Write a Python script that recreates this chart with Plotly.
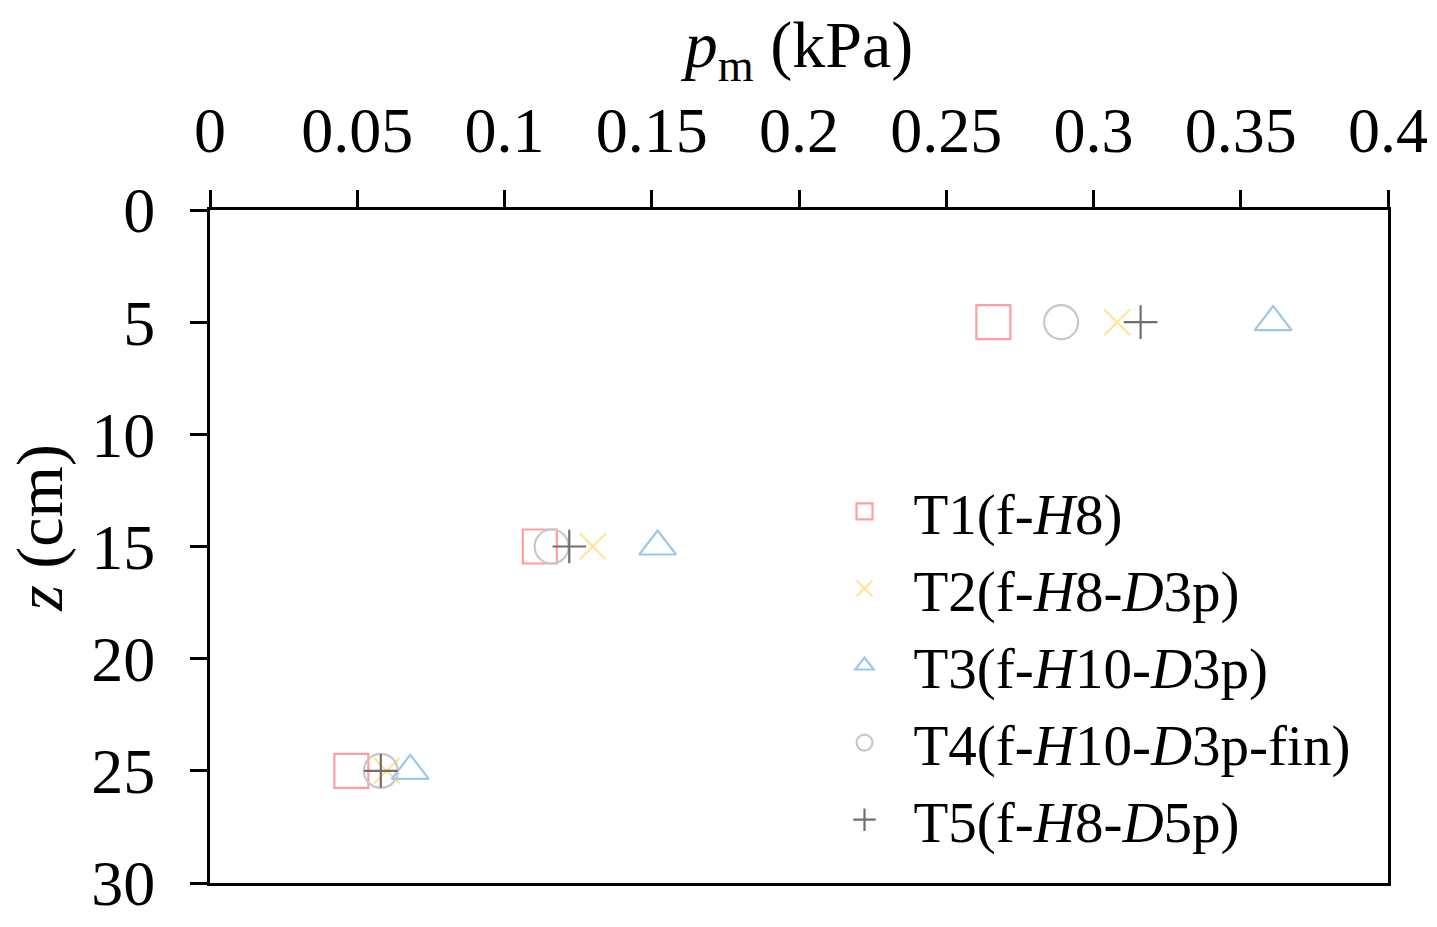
import plotly.graph_objects as go

# depth of each measurement (cm)
depth = [5, 15, 25]

# mean pressure p_m (kPa) for each test case
t1_pm = [0.266, 0.112, 0.048]
t2_pm = [0.308, 0.130, 0.060]
t3_pm = [0.361, 0.152, 0.068]
t4_pm = [0.289, 0.116, 0.058]
t5_pm = [0.316, 0.122, 0.058]

names = [
    "T1(f-<i>H</i>8)",
    "T2(f-<i>H</i>8-<i>D</i>3p)",
    "T3(f-<i>H</i>10-<i>D</i>3p)",
    "T4(f-<i>H</i>10-<i>D</i>3p-fin)",
    "T5(f-<i>H</i>8-<i>D</i>5p)",
]

x_ticks = [0, 0.05, 0.1, 0.15, 0.2, 0.25, 0.3, 0.35, 0.4]
x_ticktext = ["0", "0.05", "0.1", "0.15", "0.2", "0.25", "0.3", "0.35", "0.4"]
y_ticks = [0, 5, 10, 15, 20, 25, 30]

FONT = "Liberation Serif, Times New Roman, serif"

# (symbol, colour, size) per series
styles = [
    ("square-open", "#ff9e9e", 34),
    ("x-thin-open", "#ffe49a", 26),
    ("triangle-up-open", "#9dc8ea", 32),
    ("circle-open", "#c8c8c8", 34),
    ("cross-thin-open", "#6f6f6f", 24),
]

fig = go.Figure()

series = [t1_pm, t2_pm, t3_pm, t4_pm, t5_pm]
for pm, name, (sym, col, size) in zip(series, names, styles):
    fig.add_trace(go.Scatter(
        x=pm,
        y=depth,
        name=name,
        mode='markers',
        marker=dict(symbol=sym, size=size, color=col,
                    line=dict(width=2.2, color=col)),
    ))

axis_common = dict(
    showgrid=False,
    zeroline=False,
    showline=True,
    linecolor='black',
    linewidth=3,
    mirror=True,
    ticks='outside',
    ticklen=17,
    tickwidth=2.5,
    tickcolor='black',
    automargin=False,
    tickfont=dict(family=FONT, size=64, color='black'),
)

# page body has an 8px margin, so the figure is trimmed by that amount
fig.update_layout(
    width=1429,
    height=919,
    margin=dict(l=202, r=49, t=202, b=44),
    paper_bgcolor='white',
    plot_bgcolor='white',
    font=dict(family=FONT, color='black'),
    xaxis=dict(
        side='top',
        range=[0, 0.4],
        tickvals=x_ticks,
        ticktext=x_ticktext,
        ticklabelstandoff=12,
        title=dict(text="<i>p</i><sub>m</sub> (kPa)",
                   font=dict(family=FONT, size=66), standoff=10),
        **axis_common,
    ),
    yaxis=dict(
        range=[30, 0],
        tickvals=y_ticks,
        ticklabelstandoff=22,
        **axis_common,
    ),
    annotations=[dict(
        text="<i>z</i> (cm)",
        xref='paper', yref='paper',
        x=-0.145, y=0.528,
        xanchor='center', yanchor='middle',
        textangle=-90,
        showarrow=False,
        font=dict(family=FONT, size=66, color='black'),
    )],
    legend=dict(
        x=0.514,
        y=0.617,
        xanchor='left',
        yanchor='top',
        itemwidth=88,
        font=dict(family=FONT, size=57, color='black'),
        bgcolor='rgba(0,0,0,0)',
    ),
)

fig.write_html("out.html")
